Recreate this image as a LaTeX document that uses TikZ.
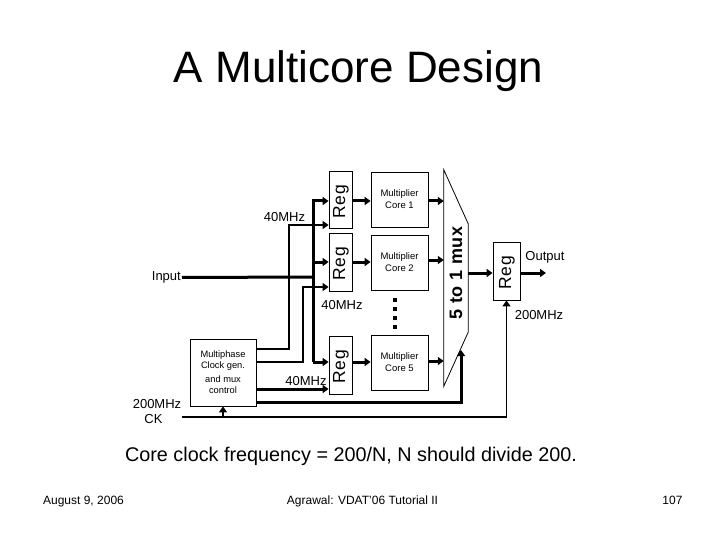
\documentclass[tikz,border=0pt]{standalone}
\usepackage{fontspec}
\setmainfont{Liberation Sans}
\usetikzlibrary{arrows.meta,calc}
\begin{document}
\begin{tikzpicture}[x=1pt,y=-1pt,
 box/.style={draw,line width=0.8pt,inner sep=0pt},
 regbox/.style={box,minimum width=23pt,minimum height=57pt},
 regtxt/.style={rotate=90,inner sep=0pt,font=\fontsize{17.5}{17.5}\selectfont\addfontfeature{LetterSpace=5}},
 corebox/.style={box,minimum width=57pt,minimum height=55pt,align=center,font=\fontsize{9.5}{12}\selectfont},
 lbl/.style={inner sep=1pt,font=\fontsize{13}{15}\selectfont},
 foot/.style={inner sep=0pt,anchor=base,font=\fontsize{12}{14}\selectfont},
 thk/.style={line width=3pt},
 thn/.style={line width=1.3pt},
 arr/.style={-{Triangle[length=6pt,width=8pt]}},
]
\fill[white] (0,0) rectangle (720,540);
\useasboundingbox (0,0) rectangle (720,540);

% title and texts
\node[inner sep=0pt,anchor=base,font=\fontsize{44}{44}\selectfont] (title) at (358.5,83) {A Multicore Design};
\node[inner sep=0pt,anchor=base,font=\fontsize{19.8}{22}\selectfont] (note) at (351,461) {Core clock frequency = 200/N, N should divide 200.};
\node[foot] (date) at (83.5,504) {August 9, 2006};
\node[foot] (conf) at (362.5,504) {Agrawal: VDAT'06 Tutorial II};
\node[foot] (page) at (672.5,504) {107};

% registers
\node[regbox] (reg1) at (340.5,199.5) {};
\node[regtxt] (reg1t) at (341,202) {Reg};
\node[regbox,minimum height=58pt] (reg2) at (340.5,262) {};
\node[regtxt] (reg2t) at (341,264) {Reg};
\node[regbox,minimum height=58pt] (reg5) at (340.5,365) {};
\node[regtxt] (reg5t) at (341,367) {Reg};
\node[box,minimum width=27pt,minimum height=58pt] (oreg) at (506.5,271) {};
\node[regtxt] (oregt) at (507,273) {Reg};

% cores
\node[corebox] (core1) at (399.5,199.5) {Multiplier\\Core 1};
\node[corebox] (core2) at (399.5,262.5) {Multiplier\\Core 2};
\node[corebox] (core5) at (399.5,362.5) {Multiplier\\Core 5};

% mux
\node[inner sep=0pt,minimum width=24pt,minimum height=216pt] (mux) at (456,278) {};
\draw[line width=0.8pt] (mux.north west) -- ($(mux.north east)+(0,54)$) -- ($(mux.south east)+(0,-54)$) -- (mux.south west) -- cycle;
\node[rotate=90,inner sep=0pt,font=\fontsize{18}{18}\bfseries\addfontfeature{LetterSpace=3}] (muxt) at (456,273) {5 to 1 mux};

% clock generator
\node[box,minimum width=66pt,minimum height=67pt,align=center,font=\fontsize{9.3}{11}\selectfont] (mp) at (223,372.5) {Multiphase\\Clock gen.\\[3pt]and mux\\control};

% labels
\node[lbl,anchor=east] (inp) at (182,277.5) {Input};
\node[lbl] (f1) at (284.5,217) {40MHz};
\node[lbl] (f2) at (342,305) {40MHz};
\node[lbl] (f5) at (306,381) {40MHz};
\node[lbl] (outl) at (545,257) {Output};
\node[lbl] (f200) at (539,315) {200MHz};
\node[lbl] (ck1) at (157,404) {200MHz};
\node[lbl] (ck2) at (153.5,419) {CK};

% coordinates
\coordinate (b1) at (313,201);
\coordinate (b2) at (313,262);
\coordinate (bi) at (313,277);
\coordinate (b5) at (313,362);
\coordinate (c1) at (289,225);
\coordinate (c2) at (303,287);
\coordinate (c5) at (0,389);
\coordinate (sel) at (461,350);
\coordinate (selr) at (0,402);
\coordinate (cka) at (182,417);
\coordinate (out) at (546,273);
\coordinate (my) at (0,273);

% data bus
\draw[thk] (inp.east) -- (bi);
\draw[thk,arr] (b5) -- (b1) -- (reg1.west |- b1);
\draw[thk,arr] (b2) -- (reg2.west |- b2);
\draw[thk,arr] (b5) -- (reg5.west |- b5);
\draw[thk,arr] (reg1.east |- b1) -- (core1.west |- b1);
\draw[thk,arr] (reg2.east |- b2) -- (core2.west |- b2);
\draw[thk,arr] (reg5.east |- b5) -- (core5.west |- b5);
\draw[thk,arr] (core1.east |- b1) -- (mux.west |- b1);
\draw[thk,arr] (core2.east |- 0,260) -- (mux.west |- 0,260);
\draw[thk,arr] (core5.east |- 0,361) -- (mux.west |- 0,361);
\draw[thk,arr] (mux.east |- my) -- (oreg.west |- my);
\draw[thk,arr] (oreg.east |- my) -- (out);

% dots
\foreach \yy in {300,309,318,327} \fill (393,\yy-2) rectangle (397,\yy+2);

% clocks
\draw[thn,arr] (mp.east |- 0,349) -| (c1) -- (reg1.west |- c1);
\draw[thn,arr] (mp.east |- 0,362) -| (c2) -- (reg2.west |- c2);
\draw[thk,arr] (mp.east |- c5) -- (reg5.west |- c5);
\draw[thk,arr] (mp.east |- selr) -| (sel);
\draw[thn,arr] (cka) -| (oreg.south);
\draw[thn,arr] (mp.south |- cka) -- (mp.south);
\end{tikzpicture}
\end{document}
